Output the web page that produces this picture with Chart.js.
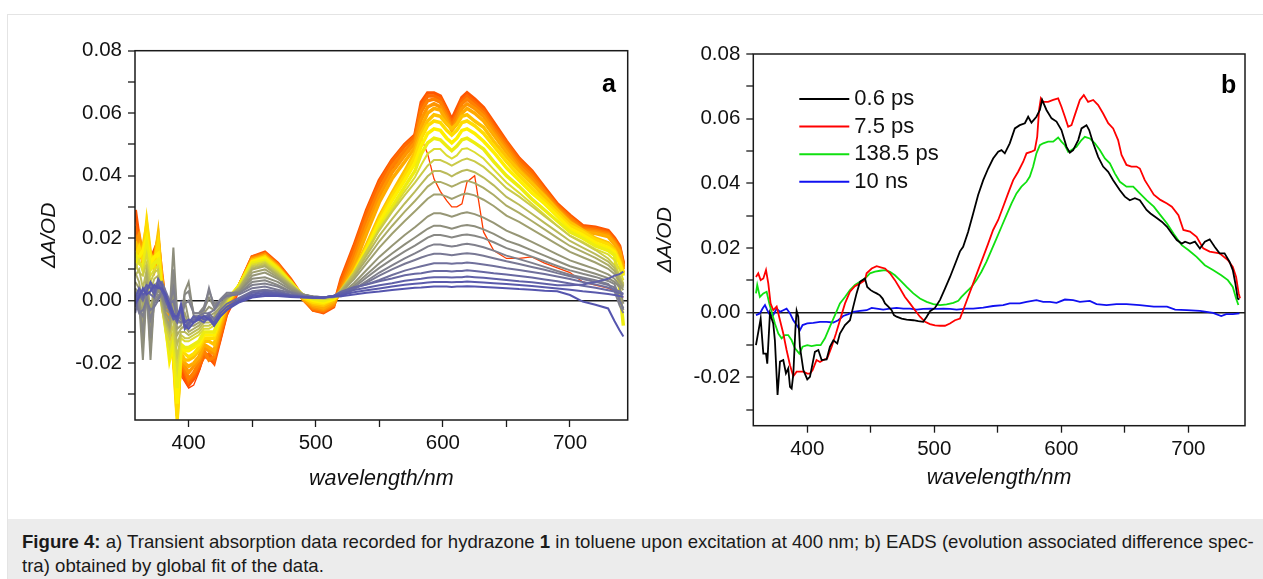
<!DOCTYPE html>
<html>
<head>
<meta charset="utf-8">
<script src="https://cdn.jsdelivr.net/npm/chart.js@4.4.1/dist/chart.umd.min.js"></script>
<style>
  body { margin: 0; background: #fff; width: 1263px; height: 579px; overflow: hidden; position: relative;
         font-family: "Liberation Sans", Arial, sans-serif; }
  #frame { position: absolute; left: 7px; top: 14px; width: 1262px; height: 570px; border: 1.5px solid #e4e4e4; box-sizing: border-box; }
  #caption { position: absolute; left: 8px; top: 519px; width: 1262px; height: 60px; background: #ececec; }
  .capline { position: absolute; left: 14px; font-size: 18.6px; line-height: 25px; color: #1a1a1a; white-space: nowrap; }
  canvas { position: absolute; top: 0; }
  #chartA { left: 0; }
  #chartB { left: 640px; }
  .panel { position: absolute; font: bold 25px "Liberation Sans", Arial, sans-serif; line-height: 25px; color: #000; }
</style>
</head>
<body>
<div id="frame"></div>
<canvas id="chartA" width="640" height="510" style="width:640px;height:510px"></canvas>
<canvas id="chartB" width="623" height="510" style="width:623px;height:510px"></canvas>
<div class="panel" style="left:602px;top:71px">a</div>
<div class="panel" style="left:1221px;top:72px">b</div>
<div id="caption">
  <div class="capline" style="top:10px"><b>Figure 4:</b> a) Transient absorption data recorded for hydrazone <b>1</b> in toluene upon excitation at 400 nm; b) EADS (evolution associated difference spec-</div>
  <div class="capline" style="top:34px">tra) obtained by global fit of the data.</div>
</div>
<script>
// ---- panel a: transient absorption spectra (values in mOD) ----
const taWavelengths = [358, 361, 364, 367, 370, 373, 376, 379, 382, 385, 388, 391, 394, 397, 400, 404, 408, 412, 416, 420, 425, 430,
  440, 450, 460, 470, 480, 490, 498, 506, 514,
  520, 530, 540, 550, 560, 570, 578, 583, 588, 593, 598, 603, 607, 611, 615, 619, 625, 632, 640,
  650, 660, 670, 680, 690, 700, 710, 720, 730, 735, 739, 742];

const taSpectra = [
  [22, 16, 12, 20, 10, 14, 12, 4, -6, -12, -20, -25, -24, -26, -28, -27, -23, -18, -19, -20, -13, -5, 3, 12, 14, 11, 6, 0, -3, -3.5, -2,
   5, 15, 26, 35, 42, 47, 50, 52, 47, 39, 35, 32, 30, 30, 31, 38, 40, 22, 16, 13.5, 13.5, 14, 12, 10.5, 9, 6, 5, 4, 3, 2, 1],
  [29, 20, 15, 22, 13, 16, 19, 8, -2, -10, -16, -27, -22, -25, -27, -25, -22, -17, -18, -20, -12, -4, 5, 14, 15.5, 12, 7, 1, -3, -3.8, -2,
   7, 17.5, 29, 38.5, 45, 50, 53, 63.5, 66.5, 66.5, 65.5, 61.5, 58, 61.5, 65, 66.5, 64.5, 61.8, 57, 51, 45.6, 41.5, 36.2, 31, 27.3, 24, 23.5, 22.4, 20, 17.5, 12],
  [24, 18, 16, 19, 15, 12, 17, 6, 0, -8, -18, -30, -21, -23, -26, -24, -21, -18, -17, -19, -11, -3, 5, 14, 15, 11.5, 6.5, 0.5, -3, -3.5, -1.5,
   6, 16.5, 28, 37.5, 44.5, 49.5, 52.5, 62, 65.5, 65.5, 64.5, 60.5, 57, 60, 64, 65.5, 63.5, 61, 56, 50.5, 45, 41, 35.5, 30.5, 26.8, 23.5, 23, 21.8, 19.5, 17, 11.5],
  [21, 19, 13, 18, 12, 14, 20, 5, -3, -11, -14, -26, -20, -22, -25, -23, -20, -16, -19, -18, -10, -3, 5, 13.5, 15, 11.5, 6.5, 0.5, -2.5, -3.2, -1.5,
   4.5, 14.5, 26, 35.5, 43, 48, 51.5, 60.5, 64, 64.5, 63.5, 59.5, 56, 59, 63, 64.5, 62.5, 60, 55, 49.5, 44, 40, 35, 30, 26.3, 23, 22.5, 21.5, 19, 16.5, 11],
  [18, 21, 14, 16, 14, 10, 16, 7, -1, -9, -17, -32, -19, -21, -23, -21, -19, -15, -16, -17, -9, -2, 5, 13.5, 14.5, 11, 6, 0.5, -2, -2.8, -1,
   3.5, 12.5, 23.5, 33.5, 41, 46.5, 50.5, 58, 62, 63, 62, 58.5, 55, 57.5, 61.5, 63, 61.5, 59, 54, 48.5, 43, 39, 34, 29.5, 25.5, 22.5, 22, 21, 18.5, 16, 10.5],
  [16, 18, 12, 22, 11, 13, 14, 4, -4, -12, -15, -35, -18, -20, -21, -20, -18, -14, -15, -16, -8, -2, 5, 13, 14.5, 11, 6, 0.5, -1.5, -2.3, -0.5,
   3, 11, 21.5, 31.5, 39, 44.5, 49, 55.5, 60, 61.5, 61, 57.5, 54.5, 56.5, 60, 61.5, 60, 57.5, 53, 47.5, 42, 38, 33, 28.5, 25, 22, 21.5, 20.5, 18, 15.5, 10],
  [19, 15, 17, 24, 13, 12, 21, 6, -5, -13, -16, -37, -17, -19, -19, -18, -16, -13, -13, -14, -7, -1, 5, 13, 14, 10.5, 6, 1, -1, -1.5, 0,
   3, 9.5, 18, 27, 34.5, 41.5, 47.5, 53.5, 57.5, 59.5, 59, 56.5, 55, 56.5, 59, 59.5, 57.5, 55.5, 51, 46, 41.5, 37.5, 33.5, 29, 25, 22.5, 20, 18.5, 16.5, 13, 9],
  [14, 17, 13, 25, 15, 11, 18, 3, -7, -16, -18, -38, -16, -17, -18, -17, -15, -12, -12, -12, -6, -1, 5, 12.5, 14, 10.5, 6, 1, -0.5, -1, 0.5,
   3, 9, 17, 26, 33.5, 40, 46, 52, 56, 57.5, 57, 54.5, 53, 54.5, 57, 57.5, 56, 53.5, 49.5, 44.5, 40, 36, 32, 28, 24, 22, 19.5, 18, 16, 12.5, 8.5],
  [12, 14, 16, 20, 12, 14, 15, 2, -8, -19, -14, -33, -15, -16, -16, -15, -14, -11, -11, -11, -5, 0, 5, 12.5, 13.5, 10, 6, 1.5, 0, -0.5, 0.5,
   2.8, 8.8, 16.5, 25, 32, 38.5, 44, 49.5, 53.5, 55, 54.5, 52, 50.5, 52, 54.5, 55, 53.5, 51, 47.5, 42.5, 38.5, 34.5, 31, 27, 23, 21, 18.5, 17, 15.5, 12, 8],
  [15, 12, 11, 18, 10, 12, 13, 0, -9, -17, -12, -28, -14, -15, -15, -14, -13, -10, -10, -10, -5, 0, 5, 12, 13, 10, 6, 1.5, 0.5, 0, 1,
   2.6, 8.3, 15.5, 23.5, 30, 36.5, 41.5, 47, 50.5, 52, 51.5, 49.5, 48, 49.5, 51.5, 52, 50.5, 48.5, 44.5, 40, 36.5, 32.5, 29, 25.5, 22, 20, 17.5, 16, 14.5, 4, -8],
  [10, 13, 9, 15, 8, 10, 11, -2, -10, -15, -10, -22, -12, -13, -13, -12, -11, -9, -9, -8, -4, 0, 4.5, 11.5, 12.5, 9.5, 5.5, 1.5, 0.5, 0.5, 1,
   2.8, 8.5, 15.5, 23, 29, 35, 39.5, 43.5, 47, 48.5, 48.5, 46.5, 45.5, 46.5, 48.5, 48.8, 47.5, 45.5, 42, 37.8, 34.5, 31, 27.5, 24, 20.8, 18.8, 16.5, 14.8, 13, 10, 6.5],
  [12, 9, 8, 12, 6, 9, 10, -3, -8, -12, -8, -18, -11, -12, -12, -11, -10, -8, -8, -7, -3, 0.5, 4.5, 11, 12, 9, 5.5, 2, 1, 0.5, 1,
   3.6, 9, 15.8, 22.5, 28.4, 33.8, 37.8, 40.5, 43.2, 45, 45, 44.1, 43.2, 44.1, 45, 45.5, 44.6, 42.8, 40, 36, 33.3, 30.2, 27, 23.9, 20.7, 18.5, 16.2, 13.5, 11.3, 8.1, 5.4],
  [8, 10, 4, 10, 3, 7, 8, -2, -7, -10, -5, -14, -10, -10, -11, -10, -9, -7, -7, -6, -3, 0.5, 4, 10.5, 11.5, 8.5, 5, 2, 1, 1, 1.2,
   3.3, 8.3, 14.5, 20.8, 26.1, 31.1, 34.9, 37.4, 39.8, 41.5, 41.5, 40.7, 39.8, 40.7, 41.5, 41.9, 41.1, 39.4, 36.9, 33.2, 30.7, 27.8, 24.9, 22, 19.1, 17, 14.9, 12.5, 10.4, 7.5, 5],
  [9, 6, -2, 8, -4, 5, 6, -1, -6, -9, -2, -11, -9, -8, -10, -9, -8, -6, -6, -5, -2, 1, 4, 10, 11, 8, 5, 2, 1, 1, 1.2,
   3, 7.6, 13.3, 19, 23.9, 28.5, 31.9, 34.2, 36.5, 38, 38, 37.2, 36.5, 37.2, 38, 38.4, 37.6, 36.1, 33.8, 30.4, 28.1, 25.5, 22.8, 20.1, 17.5, 15.6, 13.7, 11.4, 9.5, 6.8, 4.6],
  [6, 4, -8, 6, -10, 3, 5, 0, -5, -8, 2, -9, -8, -4, -8, -8, -7, -5, -5, -4, -2, 1, 3.5, 9, 10, 7.5, 4.5, 2, 1.2, 1, 1.3,
   2.7, 6.8, 11.9, 17, 21.4, 25.5, 28.6, 30.6, 32.6, 34, 34, 33.3, 32.6, 33.3, 34, 34.3, 33.7, 32.3, 30.3, 27.2, 25.2, 22.8, 20.4, 18, 15.6, 13.9, 12.2, 10.2, 8.5, 6.1, 4.1],
  [4, 2, -14, 5, -16, 2, 4, 1, -4, -6, 8, -7, -7, 0, -6, -7, -6, -4, -2, -3, -1, 1, 3, 8, 9, 7, 4, 2, 1.2, 1.1, 1.3,
   2.2, 5.6, 9.8, 14, 17.6, 21, 23.5, 25.2, 26.9, 28, 28, 27.4, 26.9, 27.4, 28, 28.3, 27.7, 26.6, 24.9, 22.4, 20.7, 18.8, 16.8, 14.8, 12.9, 11.5, 10.1, 8.4, 7, 5, 3.4],
  [3, 0, -19, 4, -19, 1, 3, 2, -3, -4, 17, -5, -6, 3, 6, -5, -5, -3, 1, -2, 0, 1.5, 3, 7, 7.5, 6, 3.5, 2, 1.3, 1.1, 1.3,
   1.9, 4.8, 8.4, 12, 15.1, 18, 20.2, 21.6, 23, 24, 24, 23.5, 23, 23.5, 24, 24.2, 23.8, 22.8, 21.4, 19.2, 17.8, 16.1, 14.4, 12.7, 11, 9.8, 8.6, 7.2, 6, 4.3, -1],
  [2, -2, -10, 2, -12, 0, 2, 1, -2, -3, 10, -4, -5, 2, 3, -4, -4, -2, 3, -1, 0, 2, 2.5, 6, 6.5, 5, 3, 1.8, 1.3, 1.1, 1.3,
   1.7, 4.2, 7.4, 10.5, 13.2, 15.8, 17.6, 18.9, 20.2, 21, 21, 20.6, 20.2, 20.6, 21, 21.2, 20.8, 20, 18.7, 16.8, 15.5, 14.1, 12.6, 11.1, 9.7, 8.6, 7.6, 6.3, 5.3, 1, -3],
  [1, -3, -5, 1, -6, -1, 1, 2, -1, -2, 4, -5, -6, -1, 0, -4, -4, -3, 4, -2, 0.5, 2.5, 2.5, 5, 5.5, 4.5, 2.8, 1.8, 1.3, 1.1, 1.3,
   1.4, 3.6, 6.3, 9, 11.3, 13.5, 15.1, 16.2, 17.3, 18, 18, 17.6, 17.3, 17.6, 18, 18.2, 17.8, 17.1, 16, 14.4, 13.3, 12.1, 10.8, 9.5, 8.3, 7.4, 6.5, 5.4, 3, -1.5, -4],
  [0, -4, -3, 0, -3, -2, 0, 3, 0, -1, 0, -6, -7, -6, -8, -5, -5, -4, -4, -3, 0, 1.5, 2, 4, 4.5, 3.5, 2.5, 1.6, 1.2, 1.1, 1.3,
   2, 3.8, 5.8, 8, 10, 11.8, 13, 13.8, 14.5, 15, 15, 14.8, 14.5, 14.8, 15, 15.2, 14.9, 14.4, 13.6, 12.6, 11.7, 10.8, 9.9, 8.8, 7.8, 6.9, 6, 5, 4.3, 0, -2.5],
  [-4, 2, 0, 3, 2, 1, 5, 6, 3, 0, -4, -6, -3, -8, -7, -6, -5, -6, -4, -6, -3, -1, 1, 3, 3.5, 3, 2, 1.4, 1.1, 1, 1.4,
   2.6, 4, 5.2, 6.6, 8.2, 9.6, 10.5, 11, 11.5, 12, 12, 12, 11.8, 12, 12, 12.2, 12, 11.6, 11.1, 10.4, 9.8, 9.2, 8.5, 7.7, 6.9, 6, 5.2, 4.2, 3.6, 3, 2.2],
  [-2, 3, 1, 4, 5, 3, 6, 4, 2, -2, -5, -7, -2, -9, -8, -6, -6, -5, -5, -7, -4, -2, 0.5, 2.5, 3, 2.5, 1.8, 1.3, 1.1, 1, 1.5,
   2.9, 4.3, 5.2, 6.2, 7.1, 8.1, 8.6, 8.8, 9.2, 9.5, 9.5, 9.5, 9.3, 9.5, 9.5, 9.7, 9.5, 9.2, 8.8, 8.4, 7.9, 7.4, 6.8, 6.2, 5.5, 4.8, 4.1, 3.3, 2.9, 2.4, 1.9],
  [0, 2, 3, 5, 4, 2, 7, 5, 0, -3, -6, -5, -3, -9, -7, -5, -6, -7, -5, -8, -5, -3, 0, 2, 2.5, 2.2, 1.6, 1.2, 1, 1, 1.6,
   2.3, 3.4, 4.1, 4.9, 5.6, 6.4, 6.8, 7, 7.3, 7.5, 7.5, 7.5, 7.4, 7.5, 7.5, 7.7, 7.5, 7.3, 7, 6.6, 6.2, 5.9, 5.4, 4.9, 4.9, 5.2, 6, 7, 8, 8.5, 9.3],
  [1, 4, 2, 3, 6, 4, 5, 3, 1, -1, -4, -6, -1, -7, -6, -7, -5, -6, -6, -7, -4, -2, 0, 1.5, 2, 1.8, 1.5, 1.1, 1, 1, 1.5,
   1.8, 2.7, 3.3, 3.9, 4.5, 5.1, 5.4, 5.6, 5.8, 6, 6, 6, 5.9, 6, 6, 6.1, 6, 5.8, 5.6, 5.3, 5, 4.7, 4.3, 3.9, 3.5, 3, 2.6, 2.1, 1.8, 1.5, 1.2],
  [-1, 1, 4, 2, 3, 5, 4, 4, 2, -2, -5, -5, -2, -8, -9, -7, -6, -5, -6, -8, -5, -3, -0.5, 1, 1.5, 1.5, 1.2, 1, 0.9, 0.9, 1.3,
   1.4, 2, 2.5, 2.9, 3.4, 3.8, 4.1, 4.2, 4.4, 4.5, 4.5, 4.5, 4.4, 4.5, 4.5, 4.6, 4.5, 4.4, 4.2, 4, 3.7, 3.5, 3.2, 3, 1.8, -0.3, -1.3, -2.5, -6.5, -9.5, -11.5]
];

// early (orange) -> late (slate blue)
const taColors = ['#ff3c00', '#ff5500', '#ff6a00', '#ff8000', '#ff9500', '#ffaa00', '#ffc200', '#ffdc00', '#fff000',
  '#eded10', '#dcdc30', '#caca48', '#baba5a', '#acac66', '#a0a070', '#969676', '#8e8e7c', '#888884', '#80808c',
  '#787894', '#70709c', '#6868a2', '#6060a8', '#5a5aac', '#5555ae'];

// ---- panel b: EADS (values in mOD) ----
const eadsLabels = ['0.6 ps', '7.5 ps', '138.5 ps', '10 ns'];

const eads06Wl = [359.6, 363.3, 365.4, 367.5, 368.5, 370.6, 373.2, 374.5, 376.6, 378.5, 381.1, 383.2, 385.0, 386.4, 387.7, 389.0,
  390.6, 391.6, 392.9, 394.2, 396.9, 400, 402.1, 406.0, 408.7, 411.3, 415.2, 417.8, 420.5, 423.6, 425.7, 429.7, 433.6, 436.2,
  438.8, 441.5, 445.4, 447.2, 449.9, 452.0, 454.6, 457.2, 459.3, 461.2, 463.8, 466.4, 468.2, 470.3, 474.3, 478.2, 483.5, 487.4,
  491.3, 494.0, 496.6, 500.5, 504.5, 508.4, 512.3, 516.3, 520.2, 522.7, 526.6, 530.6, 534.5, 538.5, 542.4, 546.3, 550.3, 552.9,
  555.5, 559.4, 563.4, 567.3, 571.3, 573.9, 576.5, 580.4, 583.1, 584.9, 588.3, 592.3, 596.2, 600.1, 604.1, 606.7, 609.3, 613.3,
  615.9, 619.8, 621.9, 625.1, 629.0, 632.9, 636.9, 640.8, 646.1, 650.0, 653.9, 657.9, 661.8, 667.1, 670.2, 675.4, 679.3, 683.2,
  687.0, 690.9, 694.8, 697.4, 701.3, 705.2, 709.1, 713.0, 716.8, 720.7, 724.6, 728.5, 732.4, 735.0, 737.0, 738.9, 740.2];
const eads06Val = [-10.0, -1.8, -12.6, -12.6, -15.7, -0.2, -3.3, -8.5, -25.4, -15.1, -14.6, -18.7, -17.2, -22.9, -23.4, -19.0,
  -5.4, 0.6, -1.2, -10.5, -17.7, -20.6, -19.8, -12.1, -11.5, -14.6, -14.4, -10.5, -8.5, -9.5, -6.4, -3.8, -2.3, 1.9,
  6.0, 9.6, 10.6, 8.0, 7.0, 6.5, 6.0, 5.4, 4.4, 2.9, 1.9, 0.8, -0.7, -1.2, -1.8, -2.1, -2.3, -2.6,
  -2.8, -1.2, 0.5, 1.5, 4.0, 7.5, 11.0, 15.0, 19.0, 20.4, 25.0, 30.7, 36.4, 41.0, 44.6, 47.7, 49.8, 50.3,
  49.3, 52.4, 57.0, 58.0, 58.6, 60.6, 58.8, 60.6, 62.7, 65.8, 62.7, 60.1, 59.1, 56.5, 51.3, 49.5, 50.3, 53.4,
  57.0, 58.0, 56.5, 52.4, 48.2, 45.2, 43.6, 41.0, 37.9, 35.9, 34.8, 35.4, 34.8, 31.8, 30.7, 29.2, 28.1, 26.6,
  24.5, 22.5, 21.4, 22.0, 21.4, 22.0, 19.9, 22.0, 22.7, 20.4, 18.4, 18.4, 15.8, 13.2, 9.1, 4.4, 4.1];

const eads75Wl = [359.6, 361.4, 363.3, 365.4, 367.5, 369.3, 371.1, 373.2, 375.9, 378.5, 381.1, 383.7, 386.4, 389.0, 391.6, 394.2,
  396.9, 400, 402.1, 404.2, 407.3, 410.0, 412.6, 415.7, 419.2, 422.6, 425.7, 429.7, 433.6, 437.5, 441.5, 445.4, 446.7, 450.7,
  454.6, 458.5, 461.2, 465.1, 469.0, 473.0, 476.9, 480.8, 484.8, 488.7, 492.7, 496.6, 500.5, 504.5, 508.4, 512.3, 516.3, 520.2,
  522.7, 526.6, 530.6, 534.5, 538.5, 542.4, 546.3, 550.3, 554.2, 558.1, 562.1, 566.0, 570.0, 572.6, 576.5, 579.1, 581.0, 582.5,
  583.9, 585.7, 589.6, 593.6, 597.5, 600.1, 602.8, 605.4, 608.0, 610.6, 614.6, 617.7, 621.1, 625.1, 629.0, 632.9, 636.9, 640.8,
  644.7, 647.4, 651.3, 655.2, 659.2, 661.8, 665.7, 668.9, 672.8, 678.0, 683.2, 687.0, 692.2, 696.1, 701.3, 706.5, 711.7, 716.8,
  724.6, 731.1, 735.0, 737.6, 739.6, 740.7];
const eads75Val = [11.1, 12.2, 10.1, 10.6, 13.2, 9.1, 2.9, 0.8, 1.9, -2.3, -6.4, -11.5, -16.2, -19.6, -18.2, -18.2,
  -18.2, -18.8, -18.8, -17.7, -14.6, -15.2, -14.6, -14.1, -10.5, -6.4, -2.3, 2.9, 6.5, 8.2, 9.1, 10.1, 12.2, 13.7,
  14.4, 14.0, 13.7, 12.2, 10.1, 7.5, 4.9, 2.9, 0.8, -1.2, -2.8, -3.5, -3.9, -4.0, -4.0, -3.3, -2.3, -1.8,
  0.8, 4.9, 9.1, 13.2, 17.3, 21.4, 25.6, 28.7, 32.8, 36.9, 41.0, 43.6, 46.7, 49.3, 49.8, 50.3, 54.4, 62.7,
  66.3, 65.2, 65.2, 65.8, 66.3, 63.7, 60.6, 57.5, 58.0, 61.1, 65.8, 67.3, 65.2, 65.8, 64.2, 61.6, 58.6, 57.0,
  53.4, 48.8, 45.7, 45.2, 45.2, 44.6, 41.0, 39.0, 36.5, 34.9, 33.8, 32.8, 30.2, 25.6, 25.1, 23.5, 19.9, 18.9,
  18.4, 16.3, 14.2, 11.1, 6.0, 4.5];

const eads1385Wl = [359.6, 360.6, 362.7, 365.4, 368, 370.1, 371.9, 374.5, 377.2, 379.8, 382.4, 385.0, 387.7, 390.3, 393.7, 396.3,
  400, 403.4, 407.3, 410.5, 413.9, 417.8, 421.8, 425.7, 429.7, 433.6, 437.5, 441.5, 445.4, 449.3, 453.3, 457.2, 461.2, 465.1,
  469.0, 473.0, 478.2, 483.5, 488.7, 494.0, 499.2, 504.5, 509.7, 515.0, 518.9, 521.4, 525.3, 529.3, 533.2, 537.1, 541.1, 545.0,
  549.0, 552.9, 556.8, 560.8, 564.7, 568.6, 572.6, 575.2, 577.8, 580.4, 583.1, 585.7, 589.6, 593.6, 597.5, 600.1, 602.8, 605.4,
  608.0, 611.9, 615.9, 618.5, 622.4, 626.4, 630.3, 634.3, 638.2, 642.1, 646.1, 651.3, 656.6, 661.8, 667.1, 672.8, 678.0, 683.2,
  688.3, 694.8, 700, 706.5, 713.0, 719.4, 725.9, 731.1, 735.0, 737.6, 739.4];
const eads1385Val = [6.0, 8.6, 4.9, 6.0, 6.5, 2.9, 0.3, -3.3, -6.4, -7.9, -6.9, -6.9, -8.5, -11.0, -12.6, -10.5,
  -10.0, -10.3, -10.0, -10.0, -7.9, -4.3, -0.7, 2.9, 4.9, 7.0, 8.6, 9.6, 10.6, 12.2, 12.7, 13.0, 13.2, 12.7,
  11.6, 10.1, 8.0, 6.0, 4.4, 3.4, 2.7, 2.4, 2.6, 3.1, 3.7, 4.9, 6.5, 8.0, 10.1, 12.7, 15.8, 19.4,
  23.0, 26.6, 30.2, 33.8, 36.9, 39.0, 40.5, 42.1, 45.2, 49.3, 51.8, 52.4, 52.9, 52.9, 54.2, 52.9, 51.8, 49.8,
  50.3, 51.3, 53.4, 54.4, 53.9, 52.4, 50.3, 47.7, 46.2, 43.1, 40.5, 39.0, 39.0, 36.9, 34.8, 32.8, 30.2, 27.6,
  24.5, 20.9, 19.4, 17.3, 14.7, 13.2, 11.6, 10.1, 8.0, 4.4, 2.4];

const eads10nsWl = [359.6, 362.7, 364.8, 366.7, 368.5, 370.6, 373.2, 375.9, 378.5, 381.1, 383.7, 386.4, 389.0, 391.6, 394.2, 396.3,
  400, 404.7, 410.0, 415.2, 420.5, 424.4, 428.3, 432.3, 436.2, 441.5, 446.7, 450.7, 454.6, 459.8, 465.1, 470.3, 475.6, 480.8,
  486.1, 491.3, 496.6, 501.8, 507.1, 512.3, 517.6, 525.3, 530.6, 538.5, 546.3, 554.2, 559.4, 567.3, 572.6, 580.4, 585.7, 591.0,
  596.2, 602.8, 609.3, 614.6, 622.4, 627.7, 635.6, 643.4, 651.3, 661.8, 672.8, 683.2, 689.6, 698.7, 709.1, 719.4, 725.9, 729.8,
  735.0, 740.2];
const eads10nsVal = [-0.7, -0.2, 1.3, 2.4, 0.8, -0.7, -0.7, 1.3, 0.3, 0.8, 1.3, -0.2, -2.3, -3.8, -5.4, -3.8,
  -3.3, -3.1, -2.8, -2.8, -3.0, -2.3, -1.0, -0.4, 0.3, 0.6, 0.8, 1.5, 1.3, 1.0, 1.3, 1.5, 1.3, 1.3,
  1.0, 1.2, 1.3, 1.2, 1.3, 1.2, 1.0, 1.3, 1.3, 1.6, 2.1, 2.4, 2.9, 2.9, 3.4, 3.9, 3.4, 3.4,
  3.1, 4.1, 3.9, 3.4, 3.7, 2.7, 2.4, 2.7, 2.7, 2.4, 1.9, 1.9, 1.0, 0.8, 0.6, 0.0, -1.0, -0.4,
  -0.4, -0.2];

// ---- axes ----
const xTicks = [400, 450, 500, 550, 600, 650, 700];
const yTicks = [-30, -20, -10, 0, 10, 20, 30, 40, 50, 60, 70, 80];

const FONT = '"Liberation Sans", Arial, sans-serif';
Chart.defaults.font.family = FONT;
Chart.defaults.color = '#111';

const framePlugin = {
  id: 'frame',
  afterDatasetsDraw(chart) {
    const { ctx, chartArea: a } = chart;
    ctx.save();
    ctx.strokeStyle = '#1a1a1a';
    ctx.lineWidth = 1.5;
    ctx.strokeRect(a.left, a.top, a.right - a.left, a.bottom - a.top);
    ctx.restore();
  }
};

const insideLegend = {
  id: 'insideLegend',
  afterDatasetsDraw(chart) {
    const { ctx, chartArea: a } = chart;
    ctx.save();
    ctx.font = '22px ' + FONT;
    ctx.textBaseline = 'middle';
    chart.data.datasets.forEach((ds, i) => {
      const y = a.top + 45 + i * 27.6;
      ctx.strokeStyle = ds.borderColor;
      ctx.lineWidth = 2;
      ctx.beginPath();
      ctx.moveTo(a.left + 46, y);
      ctx.lineTo(a.left + 96, y);
      ctx.stroke();
      ctx.fillStyle = '#111';
      ctx.fillText(ds.label, a.left + 101, y);
    });
    ctx.restore();
  }
};

function axes(o) {
  return {
    x: {
      type: 'linear', min: o.xMin, max: o.xMax,
      afterBuildTicks: s => { s.ticks = xTicks.map(v => ({ value: v })); },
      afterFit: s => { s.height = o.xHeight; },
      ticks: { callback: v => (v % 100 === 0 ? String(v) : ''), autoSkip: false, maxRotation: 0, padding: 4,
               font: { size: 20.5 }, color: '#111' },
      grid: { drawOnChartArea: false, tickColor: '#1a1a1a', tickLength: 7, tickWidth: 1.3 },
      border: { display: false },
      title: { display: true, text: 'wavelength/nm', color: '#111',
               font: { size: 21.5, style: 'italic' }, padding: { top: 0, bottom: o.xTitlePad } }
    },
    y: {
      min: o.yMin, max: 80,
      afterBuildTicks: s => { s.ticks = yTicks.map(v => ({ value: v })); },
      afterFit: s => { s.width = o.yWidth; },
      ticks: { callback: v => (v % 20 === 0 ? (v / 1000).toFixed(2) : ''), autoSkip: false, padding: 6,
               font: { size: 20.5 }, color: '#111' },
      grid: {
        drawOnChartArea: true,
        color: c => (c.tick && c.tick.value === 0 ? '#1a1a1a' : 'rgba(0,0,0,0)'),
        lineWidth: c => (c.tick && c.tick.value === 0 ? 1.5 : 0),
        tickColor: '#1a1a1a', tickLength: 7, tickWidth: 1.3
      },
      border: { display: false },
      title: { display: true, text: 'ΔA/OD', color: '#111',
               font: { size: 21, style: 'italic' }, padding: { top: o.yTitlePad, bottom: 0 } }
    }
  };
}

const common = {
  responsive: false,
  animation: false,
  devicePixelRatio: 1,
  events: [],
  elements: { point: { radius: 0 }, line: { tension: 0, fill: false } },
  plugins: { legend: { display: false }, tooltip: { enabled: false } }
};

// panel a
new Chart(document.getElementById('chartA'), {
  type: 'line',
  data: {
    datasets: taSpectra.map((vals, i) => ({
      data: vals.map((v, j) => ({ x: taWavelengths[j], y: v })),
      borderColor: taColors[i],
      borderWidth: i === 0 ? 1.3 : (i <= 9 ? 3.5 : 2),
      order: taSpectra.length - i
    }))
  },
  options: Object.assign({}, common, {
    layout: { padding: { left: 0, top: 50.7, right: 12.3, bottom: 0 } },
    scales: axes({ xMin: 357.8, xMax: 745.4, yMin: -38.2, xHeight: 90, yWidth: 135, xTitlePad: 18, yTitlePad: 36.4 })
  }),
  plugins: [framePlugin]
});

// panel b
const eadsSeries = [
  [eads06Wl, eads06Val, '#000000'],
  [eads75Wl, eads75Val, '#ff0000'],
  [eads1385Wl, eads1385Val, '#10e010'],
  [eads10nsWl, eads10nsVal, '#1010f0']
];
new Chart(document.getElementById('chartB'), {
  type: 'line',
  data: {
    datasets: eadsSeries.map(([wl, val, color], i) => ({
      label: eadsLabels[i],
      data: val.map((v, j) => ({ x: wl[j], y: v })),
      borderColor: color,
      borderWidth: 1.8
    }))
  },
  options: Object.assign({}, common, {
    layout: { padding: { left: 0, top: 54, right: 18, bottom: 0 } },
    scales: axes({ xMin: 357.5, xMax: 744.6, yMin: -34.9, xHeight: 84.3, yWidth: 113.3, xTitlePad: 19, yTitlePad: 12.4 })
  }),
  plugins: [framePlugin, insideLegend]
});
</script>
</body>
</html>
